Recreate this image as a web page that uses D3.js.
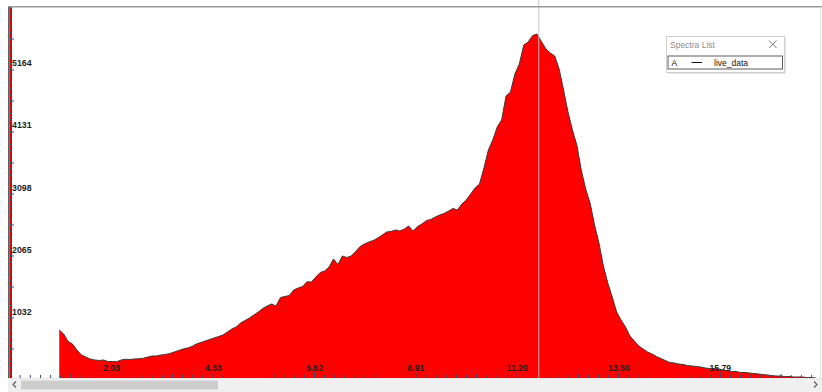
<!DOCTYPE html>
<html>
<head>
<meta charset="utf-8">
<script src="https://cdn.jsdelivr.net/npm/d3@7"></script>
<style>
  body { margin: 0; background: #ffffff; overflow: hidden; }
  #chart { width: 822px; height: 392px; }
  text { font-family: "Liberation Sans", Arial, sans-serif; }
</style>
</head>
<body>
<div id="chart"></div>
<script>
// spectrum: channel start / width and counts per channel
const channelStart = 0.86;
const channelStep = 0.1;
const counts = [
  825, 758, 633, 591, 491, 408, 375, 342, 325, 317,
  325, 300, 300, 297, 325, 337, 333, 342, 345, 353,
  375, 392, 392, 408, 417, 433, 458, 483, 508, 525,
  550, 591, 616, 641, 666, 691, 716, 741, 791, 841,
  875, 941, 983, 1025, 1075, 1125, 1183, 1225, 1258, 1225,
  1366, 1383, 1399, 1491, 1524, 1549, 1629, 1624, 1708, 1783,
  1808, 1874, 2008, 1916, 2058, 2033, 2058, 2133, 2216, 2257,
  2291, 2316, 2357, 2407, 2457, 2466, 2491, 2474, 2507, 2557,
  2474, 2549, 2591, 2649, 2666, 2707, 2741, 2766, 2807, 2849,
  2824, 2924, 2990, 3090, 3190, 3257, 3524, 3823, 3990, 4207,
  4323, 4723, 4790, 5090, 5256, 5573, 5623, 5731, 5756, 5631,
  5506, 5440, 5390, 5173, 4823, 4457, 4157, 3907, 3490, 3174,
  2940, 2574, 2274, 1891, 1608, 1374, 1125, 991, 875, 725,
  641, 558, 508, 458, 425, 383, 350, 317, 283, 275,
  258, 250, 233, 225, 217, 208, 192, 183, 183, 175,
  158, 150, 133, 133, 117, 117, 108, 100, 92, 83,
  75, 67, 58, 58, 50, 50, 42, 42, 42, 33,
  33, 25
];

const xLabels = [2.03, 4.33, 6.62, 8.91, 11.20, 13.50, 15.79];
const yLabels = [1032, 2065, 3098, 4131, 5164];
const legendItems = [{ key: "A", name: "live_data" }];
const cursorX = 11.70;

const data = counts.map((c, i) => ({ x: channelStart + i * channelStep, y: c }));

const width = 822, height = 392;
const plotLeft = 10, plotTop = 7, plotBottom = 378;

const svg = d3.select("#chart").append("svg")
    .attr("width", width)
    .attr("height", height);

const x = d3.scaleLinear().domain([0, 18]).range([21.2, 817.5]);
const y = d3.scaleLinear().domain([0, 6206]).range([379.5, 7]);

// filled spectrum
const area = d3.area()
    .x(d => x(d.x))
    .y0(y(0))
    .y1(d => y(d.y));

svg.append("path")
    .datum(data)
    .attr("d", area)
    .style("fill", "#ff0000")
    .style("stroke", "none");

svg.append("path")
    .datum(data)
    .attr("d", d3.line().x(d => x(d.x)).y(d => y(d.y)))
    .style("fill", "none")
    .style("stroke", "#3a3a3a")
    .style("stroke-width", 1);

// cursor line
svg.append("line")
    .attr("x1", x(cursorX)).attr("x2", x(cursorX))
    .attr("y1", 0).attr("y2", plotBottom)
    .style("stroke", "#c4c4c4")
    .style("stroke-width", 1)
    .style("opacity", 0.9);

// frame: top line, right line, left red stripe
svg.append("line")
    .attr("x1", 8).attr("x2", 822).attr("y1", 6.8).attr("y2", 6.8)
    .style("stroke", "#9a9a9a").style("stroke-width", 1.5);
svg.append("line")
    .attr("x1", 820.5).attr("x2", 820.5).attr("y1", 7).attr("y2", plotBottom)
    .style("stroke", "#e2e2e2");
svg.append("rect")
    .attr("x", 9.4).attr("y", 7.5).attr("width", 2.6).attr("height", plotBottom - 7.5)
    .style("fill", "#e00000");
svg.append("line")
    .attr("x1", 8.7).attr("x2", 8.7).attr("y1", 7).attr("y2", plotBottom)
    .style("stroke", "#5a5a5a").style("stroke-width", 1.3);

const tickColor = "#34507e";

// x ticks (minor, medium, labelled)
const xStep = 2.29333 / 10;
const xMinor = d3.range(-0.034, 18, xStep);
const xMid = d3.range(-0.034 + xStep * 5, 18, xStep * 10);

const gxMinor = svg.append("g")
    .attr("transform", `translate(0,${plotBottom})`)
    .call(d3.axisBottom(x).tickValues(xMinor).tickSizeInner(-3).tickSizeOuter(0).tickFormat(""));
const gxMid = svg.append("g")
    .attr("transform", `translate(0,${plotBottom})`)
    .call(d3.axisBottom(x).tickValues(xMid).tickSizeInner(-4).tickSizeOuter(0).tickFormat(""));
const gx = svg.append("g")
    .attr("transform", `translate(0,${plotBottom})`)
    .call(d3.axisBottom(x).tickValues(xLabels).tickSizeInner(-6).tickSizeOuter(0).tickFormat(d3.format(".2f")));
gx.selectAll("text")
    .attr("y", -7).attr("dy", 0)
    .style("font-size", "8.6px").style("font-weight", "bold").style("fill", "#1e1e1e");

// y ticks
const yStep = 1032.8 / 10;
const yMinor = d3.range(0, 6206, yStep);
const yMid = d3.range(yStep * 5, 6206, yStep * 10);

const gyMinor = svg.append("g")
    .attr("transform", `translate(${plotLeft},0)`)
    .call(d3.axisRight(y).tickValues(yMinor).tickSizeInner(2).tickSizeOuter(0).tickFormat(""));
const gyMid = svg.append("g")
    .attr("transform", `translate(${plotLeft},0)`)
    .call(d3.axisRight(y).tickValues(yMid).tickSizeInner(4).tickSizeOuter(0).tickFormat(""));
const gy = svg.append("g")
    .attr("transform", `translate(${plotLeft},0)`)
    .call(d3.axisRight(y).tickValues(yLabels.map(v => v + 0.8)).tickSizeInner(4).tickSizeOuter(0)
        .tickFormat((d, i) => yLabels[i]));
gy.selectAll("text")
    .attr("x", 2).attr("dy", 0).attr("y", -3.5)
    .style("text-anchor", "start")
    .style("font-size", "8.8px").style("font-weight", "bold").style("fill", "#1e1e1e");

[gxMinor, gxMid, gx, gyMinor, gyMid, gy].forEach(g => {
    g.select(".domain").remove();
    g.selectAll("line").style("stroke", tickColor);
});

// scrollbar
svg.append("rect")
    .attr("x", 8).attr("y", plotBottom).attr("width", width - 8).attr("height", height - plotBottom)
    .style("fill", "#f0f0f0");
svg.append("line")
    .attr("x1", 8).attr("x2", width).attr("y1", plotBottom + 0.5).attr("y2", plotBottom + 0.5)
    .style("stroke", "#e6e6e6");
svg.append("rect")
    .attr("x", 21).attr("y", 380.5).attr("width", 197).attr("height", 9)
    .style("fill", "#cdcdcd");
svg.append("path")
    .attr("d", "M16,381.5 L13,384.5 L16,387.5")
    .style("fill", "none").style("stroke", "#606060").style("stroke-width", 1.2);
svg.append("path")
    .attr("d", "M814,381.5 L817,384.5 L814,387.5")
    .style("fill", "none").style("stroke", "#606060").style("stroke-width", 1.2);

// legend window
const lg = svg.append("g").attr("transform", "translate(666.5,36.5)");
lg.append("rect")
    .attr("x", 1.5).attr("y", 1.5).attr("width", 118).attr("height", 36)
    .style("fill", "#e8e8e8");
lg.append("rect")
    .attr("width", 118).attr("height", 36)
    .style("fill", "#ffffff").style("stroke", "#cfcfcf");
lg.append("text")
    .attr("x", 3.5).attr("y", 11.5)
    .style("font-size", "8.5px").style("fill", "#8c8c8c")
    .text("Spectra List");
lg.append("path")
    .attr("d", "M102.5,4 L110,11.5 M110,4 L102.5,11.5")
    .style("stroke", "#7a7a7a").style("stroke-width", 1);
const rows = lg.selectAll(".row").data(legendItems).enter().append("g")
    .attr("transform", (d, i) => `translate(1.5,${19.5 + i * 15})`);
rows.append("rect")
    .attr("width", 114.5).attr("height", 13)
    .style("fill", "#ffffff").style("stroke", "#5c5c5c");
rows.append("text")
    .attr("x", 3.5).attr("y", 10)
    .style("font-size", "8.5px").style("fill", "#111")
    .text(d => d.key);
rows.append("line")
    .attr("x1", 23.5).attr("x2", 34).attr("y1", 6.5).attr("y2", 6.5)
    .style("stroke", "#111").style("stroke-width", 1);
rows.append("text")
    .attr("x", 46).attr("y", 10)
    .style("font-size", "8.5px").style("fill", "#111")
    .text(d => d.name);
</script>
</body>
</html>
